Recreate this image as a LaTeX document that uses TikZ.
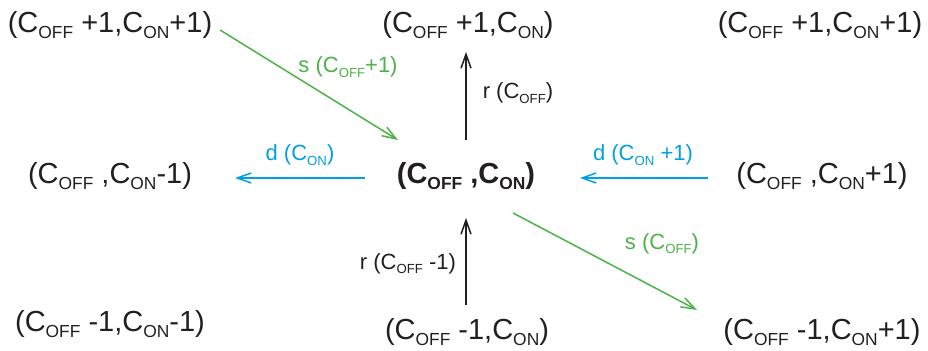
\documentclass[tikz,border=0pt]{standalone}
\usepackage{fontspec}
\setmainfont{Liberation Sans}
\usepackage{graphicx}
\usetikzlibrary{arrows.meta,calc}
\definecolor{ink}{RGB}{35,31,32}
\definecolor{sgreen}{RGB}{77,178,72}
\definecolor{dblue}{RGB}{0,160,227}
\newcommand{\lo}[1]{\raisebox{-0.2em}{\scalebox{0.6}{#1}}}
\tikzset{
	state/.style = {anchor=base, inner sep=0pt, text=ink, font=\fontsize{14.5}{17}\selectfont},
	rate/.style = {inner sep=0pt, font=\fontsize{11}{13}\selectfont},
	arr/.style = {-{Straight Barb[length=7pt,width=5pt]}, line width=0.75pt}
}
\begin{document}
\begin{tikzpicture} [x=0.5pt,y=0.5pt]
	\useasboundingbox (0,0) rectangle (928,351);
	% states
	\node [state] (tl) at (110,318) {(C\lo{OFF} +1,C\lo{ON}+1)};
	\node [state] (tm) at (468,318) {(C\lo{OFF} +1,C\lo{ON})};
	\node [state] (tr) at (820,318) {(C\lo{OFF} +1,C\lo{ON}+1)};
	\node [state] (ml) at (110,167) {(C\lo{OFF} ,C\lo{ON}-1)};
	\node [state, font=\fontsize{14.5}{17}\selectfont\bfseries] (c) at (466,167) {(C\lo{OFF} ,C\lo{ON})};
	\node [state] (mr) at (822,167) {(C\lo{OFF} ,C\lo{ON}+1)};
	\node [state] (bl) at (110,19) {(C\lo{OFF} -1,C\lo{ON}-1)};
	\node [state] (bm) at (467,11) {(C\lo{OFF} -1,C\lo{ON})};
	\node [state] (br) at (822,11) {(C\lo{OFF} -1,C\lo{ON}+1)};
	% transitions
	\draw [arr, sgreen] ($(tl.base)+(110,3)$) -- ($(c.base)+(-68,44)$) node [rate, midway, shift={(39,18)}] {s (C\lo{OFF}+1)};
	\draw [arr, ink] ($(c.base)+(0,44)$) -- ($(tm.base)+(-2,-19)$) node [rate, midway, shift={(52,3)}] {r (C\lo{OFF})};
	\draw [arr, dblue] ($(c.base)+(-101,6)$) -- ($(ml.base)+(125,6)$) node [rate, midway, shift={(0,23)}] {d (C\lo{ON})};
	\draw [arr, dblue] ($(mr.base)+(-114,6)$) -- ($(c.base)+(114,6)$) node [rate, midway, shift={(-1,23)}] {d (C\lo{ON} +1)};
	\draw [arr, ink] ($(bm.base)+(-1,35)$) -- ($(c.base)+(0,-34)$) node [rate, midway, shift={(-58,-2)}] {r (C\lo{OFF} -1)};
	\draw [arr, sgreen] ($(c.base)+(47,-29)$) -- ($(br.base)+(-125,30)$) node [rate, midway, shift={(57,18)}] {s (C\lo{OFF})};
\end{tikzpicture}
\end{document}
